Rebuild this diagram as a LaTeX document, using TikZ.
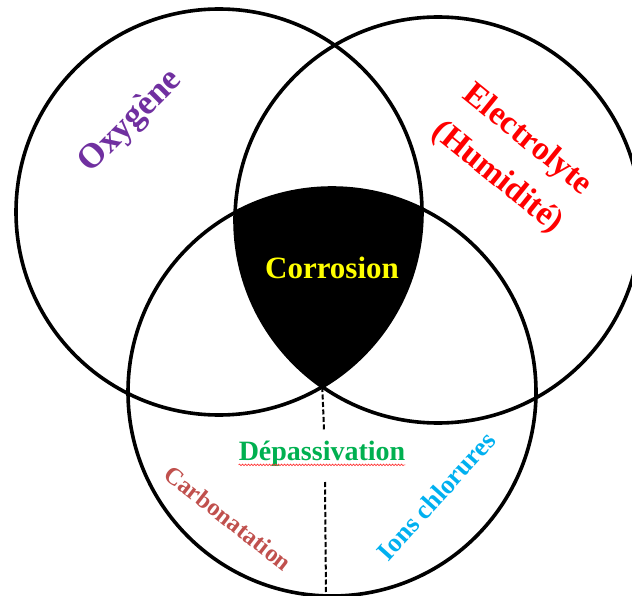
\documentclass[tikz,border=0pt]{standalone}
\usepackage{fontspec}
\setmainfont{Liberation Serif}
\usetikzlibrary{decorations.pathmorphing}
\definecolor{oxy}{HTML}{7030A0}
\definecolor{elec}{HTML}{FF0000}
\definecolor{corr}{HTML}{FFFF00}
\definecolor{depa}{HTML}{00B050}
\definecolor{carb}{HTML}{C0504D}
\definecolor{ions}{HTML}{00B0F0}
\tikzset{
  ring/.style={draw=black, line width=3.6pt},
  dashline/.style={draw=black, line width=2pt, dash pattern=on 5pt off 2.5pt},
  lbl/.style={font=\bfseries, inner sep=0pt},
}
\begin{document}
\begin{tikzpicture}[x=1pt,y=-1pt]
\useasboundingbox (0,0) rectangle (632,596);
\coordinate (cA) at (219,212);
\coordinate (cB) at (438,220);
\coordinate (cC) at (332,392);
\begin{scope}
  \clip (cA) circle (203);
  \clip (cB) circle (203);
  \fill[black] (cC) circle (204);
\end{scope}
\draw[ring] (cA) circle (203);
\draw[ring] (cB) circle (203);
\draw[ring] (cC) circle (204);
\coordinate (p) at (322.3,387);
\coordinate (q1) at (324,430);
\coordinate (q2) at (325,482);
\coordinate (q3) at (326,595);
\draw[dashline] (p) -- (q1);
\draw[dashline] (q2) -- (q3);
\node[lbl, text=oxy, rotate=45, font=\bfseries\fontsize{35}{40}\selectfont] (oxy) at (131,122) {Oxygène};
\node[lbl, text=elec, rotate=-39, align=center, font=\bfseries\fontsize{33.5}{48}\selectfont] (elec) at (512,159) {Electrolyte\\(Humidité)};
\node[lbl, text=corr, font=\bfseries\fontsize{31}{36}\selectfont] (corr) at (332,268) {Corrosion};
\node[lbl, text=depa, font=\bfseries\fontsize{28}{32}\selectfont] (depa) at (322,454) {Dépassivation};
\draw[red!80, line width=0.6pt, decorate, decoration={snake, amplitude=0.8pt, segment length=3pt}] (depa.south west) ++(0,-2) -- ([yshift=2pt]depa.south east);
\node[lbl, text=carb, rotate=-38, font=\bfseries\fontsize{24.5}{28}\selectfont] (carb) at (228,518) {Carbonatation};
\node[lbl, text=ions, rotate=48, font=\bfseries\fontsize{26.5}{30}\selectfont] (ions) at (436,496) {Ions chlorures};
\end{tikzpicture}
\end{document}
